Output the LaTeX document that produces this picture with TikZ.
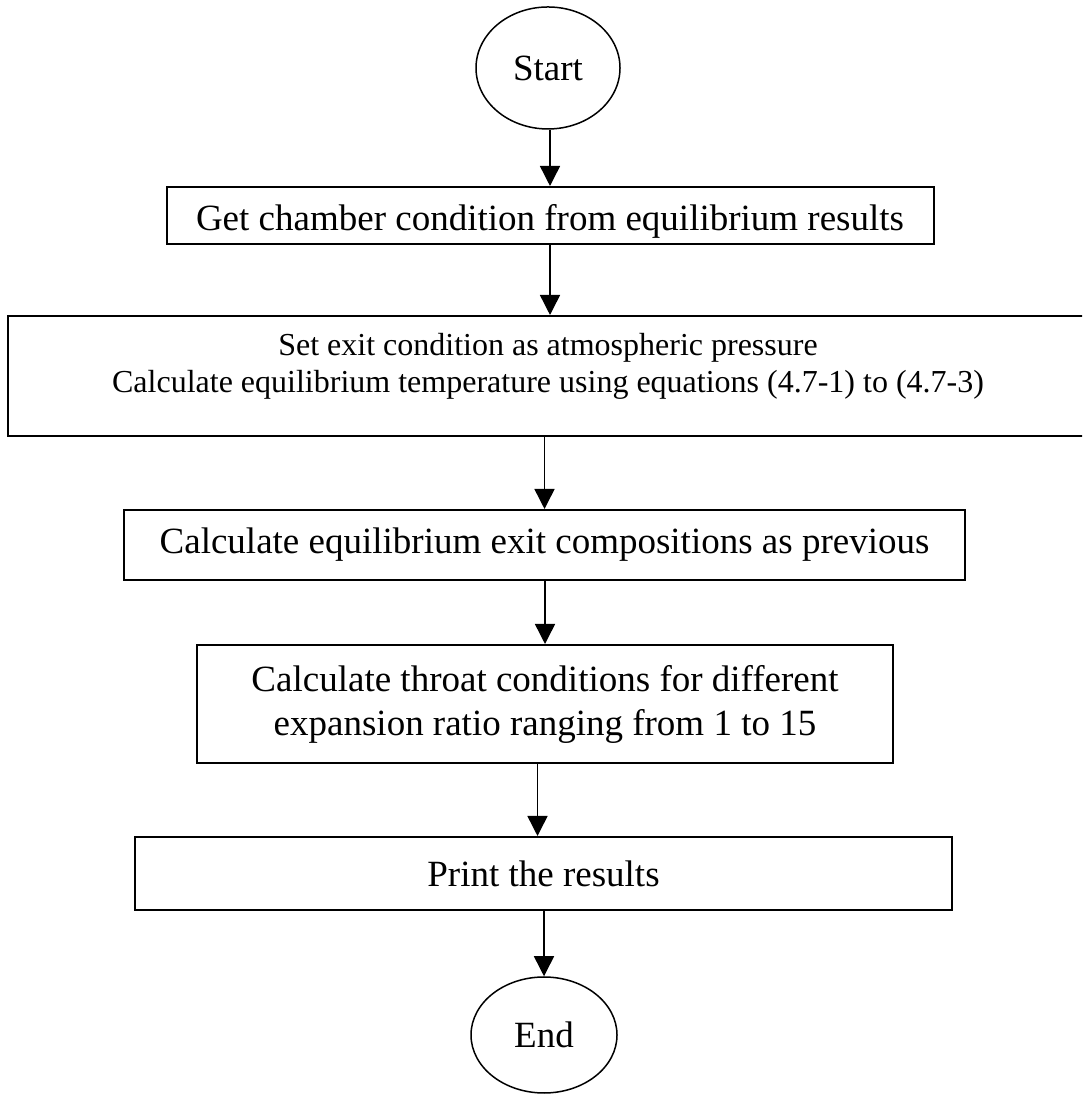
\documentclass[tikz,border=0pt]{standalone}
\usepackage{fontspec}
\setmainfont{Liberation Serif}
\usetikzlibrary{shapes.geometric, arrows.meta, positioning}

\begin{document}
\begin{tikzpicture}[x=0.5pt, y=0.5pt,
	term/.style={ellipse, draw, line width=0.75pt, inner sep=0pt,
		minimum width=72pt, minimum height=61pt, font=\fontsize{18.5}{22}\selectfont},
	proc/.style={rectangle, draw, line width=1pt, inner sep=0pt, align=center,
		font=\fontsize{18.5}{22}\selectfont},
	arr/.style={line width=0.75pt, -{Triangle[length=10pt, width=10pt]}}]
	% page
	\clip (0,0) rectangle (1082,1095);
	
	% terminals and steps
	\node[term] (start) at (548,1027) {Start};
	\node[proc, minimum width=383.5pt, minimum height=28.5pt, text height=18.5pt] (cham) at (550,879.5) {Get chamber condition from equilibrium results};
	\node[proc, minimum width=540pt, minimum height=60pt, text depth=13.5pt,
		font=\fontsize{16}{18.5}\selectfont] (exit) at (548,719) {Set exit condition as atmospheric pressure\\Calculate equilibrium temperature using equations (4.7-1) to (4.7-3)};
	\node[proc, minimum width=420.5pt, minimum height=35pt] (comp) at (544.5,550) {Calculate equilibrium exit compositions as previous};
	\node[proc, minimum width=348pt, minimum height=59pt] (throat) at (545,391) {Calculate throat conditions for different\\expansion ratio ranging from 1 to 15};
	\node[proc, minimum width=408.5pt, minimum height=36.5pt] (print) at (543.5,221.5) {Print the results};
	\node[term, minimum width=73pt, minimum height=58pt] (end) at (544,60) {End};
	
	% flow
	\draw[arr] (cham |- start.south) -- (cham);
	\draw[arr] (cham) -- (cham |- exit.north);
	\draw[arr] (comp |- exit.south) -- (comp);
	\draw[arr] (throat |- comp.south) -- (throat);
	\draw[arr] ([xshift=-3pt]print.north |- throat.south) -- ([xshift=-3pt]print.north);
	\draw[arr] (end |- print.south) -- (end);
\end{tikzpicture}
\end{document}
